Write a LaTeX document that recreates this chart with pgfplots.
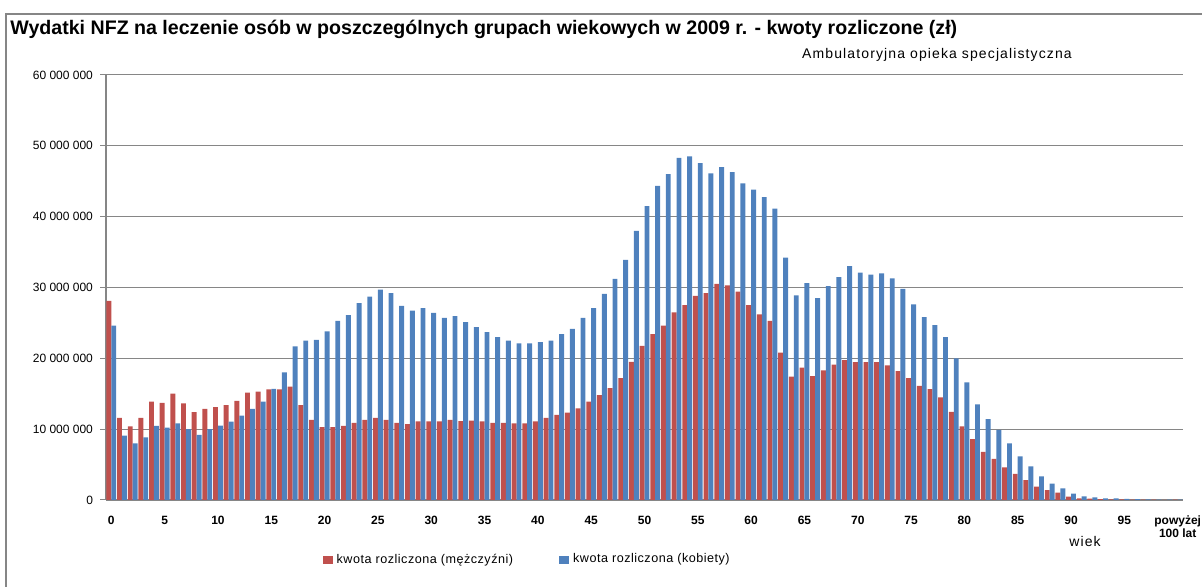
\documentclass[border=0pt]{standalone}
\usepackage{fontspec}
\setmainfont{Liberation Sans}
\newfontfamily\spaced[LetterSpace=4]{Liberation Sans}
\newfontfamily\wide[LetterSpace=8]{Liberation Sans}
\usepackage{pgfplots}
\usepackage{pgfplotstable}
\pgfplotsset{compat=1.18}

\definecolor{men}{HTML}{C0504D}
\definecolor{women}{HTML}{4F81BD}
\definecolor{gridgray}{HTML}{868686}

% wiek, mezczyzni (mln zl), kobiety (mln zl)
\pgfplotstableread{
age m k
0 28.1 24.6
1 11.6 9.1
2 10.4 8.0
3 11.6 8.85
4 13.9 10.45
5 13.7 10.2
6 15.0 10.8
7 13.65 10.0
8 12.4 9.2
9 12.85 10.0
10 13.1 10.5
11 13.4 11.05
12 14.0 11.9
13 15.15 12.85
14 15.3 13.9
15 15.6 15.7
16 15.6 18.0
17 16.0 21.7
18 13.4 22.5
19 11.3 22.6
20 10.3 23.8
21 10.3 25.3
22 10.45 26.1
23 10.9 27.8
24 11.3 28.7
25 11.6 29.7
26 11.3 29.2
27 10.9 27.4
28 10.7 26.75
29 11.1 27.1
30 11.1 26.4
31 11.1 25.7
32 11.3 25.95
33 11.15 25.1
34 11.2 24.4
35 11.1 23.7
36 10.9 23.0
37 10.9 22.5
38 10.8 22.1
39 10.8 22.1
40 11.1 22.3
41 11.6 22.5
42 12.0 23.4
43 12.35 24.15
44 12.95 25.7
45 13.9 27.1
46 14.8 29.1
47 15.8 31.2
48 17.2 33.9
49 19.5 38.0
50 21.75 41.5
51 23.4 44.35
52 24.6 46.0
53 26.5 48.3
54 27.5 48.5
55 28.8 47.55
56 29.2 46.1
57 30.5 47.0
58 30.3 46.3
59 29.4 44.7
60 27.5 43.8
61 26.2 42.75
62 25.3 41.15
63 20.8 34.2
64 17.4 28.9
65 18.7 30.6
66 17.5 28.5
67 18.3 30.2
68 19.1 31.45
69 19.75 33.0
70 19.45 32.1
71 19.45 31.8
72 19.45 32.0
73 19.0 31.3
74 18.2 29.8
75 17.2 27.6
76 16.1 25.8
77 15.65 24.7
78 14.5 23.0
79 12.45 20.0
80 10.4 16.6
81 8.6 13.5
82 6.8 11.4
83 5.8 9.9
84 4.6 8.0
85 3.7 6.15
86 2.8 4.75
87 1.9 3.35
88 1.4 2.3
89 1.04 1.65
90 0.47 0.9
91 0.24 0.52
92 0.19 0.38
93 0.14 0.24
94 0.1 0.24
95 0.08 0.16
96 0.06 0.12
97 0.05 0.09
98 0.04 0.07
99 0.03 0.05
100 0.04 0.06
}\wydatki

\begin{document}
\begin{tikzpicture}[x=0.5pt,y=0.5pt]
\useasboundingbox (0,0) rectangle (1202,587);
\draw[gridgray, line width=0.6pt] (6,0) -- (6,573) -- (1202,573);
\node[anchor=base west, inner sep=0pt, font=\bfseries\fontsize{9.8}{11}\selectfont]
    at (10,552) {Wydatki NFZ na leczenie osób w poszczególnych grupach wiekowych w 2009 r. - kwoty rozliczone (zł)};
\node[font=\wide\fontsize{7}{8}\selectfont] at (937,532) {Ambulatoryjna opieka specjalistyczna};
\node[font=\wide\fontsize{7}{8}\selectfont] at (1085,46) {wiek};
\coordinate (axpos) at (106,87);
\begin{axis}[
    at={(axpos)}, anchor=south west,
    scale only axis, width=538.5pt, height=212.5pt,
    xmin=-0.5, xmax=100.5, ymin=0, ymax=60,
    axis lines=left,
    axis line style={-, draw=gridgray, line width=0.6pt},
    ymajorgrids, grid style={draw=gridgray, line width=0.5pt},
    ybar, bar width=0.46,
    xtick={0,5,...,100},
    xticklabels={0,5,10,15,20,25,30,35,40,45,50,55,60,65,70,75,80,85,90,95,{powyżej\\100 lat}},
    xtick style={draw=none},
    xticklabel style={font=\bfseries\fontsize{6}{6.5}\selectfont, align=center, yshift=-1.5pt},
    ytick={0,10,20,30,40,50,60},
    yticklabels={0,10 000 000,20 000 000,30 000 000,40 000 000,50 000 000,60 000 000},
    ytick style={draw=gridgray, line width=0.5pt},
    tick align=outside, major tick length=3pt,
    yticklabel style={font=\fontsize{6}{7}\selectfont},
    legend style={at={(0.392,-0.141)}, anchor=center, draw=none,
        font=\spaced\fontsize{6.3}{7}\selectfont, legend columns=2,
        /tikz/every even column/.append style={column sep=21pt}},
    legend image code/.code={\fill[#1] (0pt,-2.2pt) rectangle (5pt,2.2pt);},
]
\addplot[fill=men, draw=none, bar shift=-0.23] table[x=age, y=m] {\wydatki};
\addlegendentry{kwota rozliczona (mężczyźni)}
\addplot[fill=women, draw=none, bar shift=0.23] table[x=age, y=k] {\wydatki};
\addlegendentry{kwota rozliczona (kobiety)}
\end{axis}
\end{tikzpicture}
\end{document}
